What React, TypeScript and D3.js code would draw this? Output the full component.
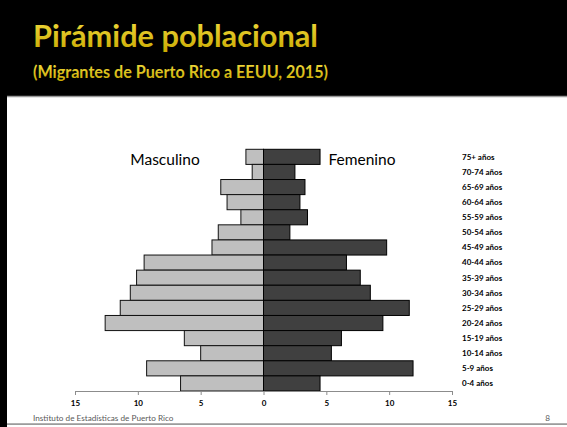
import { useEffect, useRef } from 'react'
import * as d3 from 'd3'

// age groups, top to bottom
const ageGroups = [
  '75+ años', '70-74 años', '65-69 años', '60-64 años', '55-59 años', '50-54 años',
  '45-49 años', '40-44 años', '35-39 años', '30-34 años', '25-29 años', '20-24 años',
  '15-19 años', '10-14 años', '5-9 años', '0-4 años',
]
const masculino = [1.4, 0.9, 3.4, 2.9, 1.8, 3.6, 4.1, 9.5, 10.1, 10.6, 11.4, 12.6, 6.3, 5.0, 9.3, 6.6]
const femenino = [4.5, 2.5, 3.3, 2.9, 3.5, 2.1, 9.8, 6.6, 7.7, 8.5, 11.6, 9.5, 6.2, 5.4, 11.9, 4.5]
const tickValues = [-15, -10, -5, 0, 5, 10, 15]

const W = 567
const H = 427

export default function App() {
  const ref = useRef<SVGSVGElement>(null)

  useEffect(() => {
    const svg = d3.select(ref.current)
    svg.selectAll('*').remove()

    // slide background
    svg.append('rect').attr('width', W).attr('height', H).attr('fill', '#000')
    svg.append('rect').attr('x', 7).attr('y', 96).attr('width', W - 7).attr('height', 328).attr('fill', '#fff')
    svg.append('line').attr('x1', 7).attr('x2', W).attr('y1', 96.5).attr('y2', 96.5).attr('stroke', '#999').attr('stroke-width', 1.5)
    svg.append('line').attr('x1', 7).attr('x2', W).attr('y1', 424).attr('y2', 424).attr('stroke', '#999').attr('stroke-width', 1.5)
    svg.append('rect').attr('x', 7).attr('y', 424.7).attr('width', W - 7).attr('height', 3).attr('fill', '#fff')

    const grad = svg.append('defs').append('linearGradient').attr('id', 'gold').attr('x1', 0).attr('x2', 0).attr('y1', 0).attr('y2', 1)
    grad.append('stop').attr('offset', '0%').attr('stop-color', '#f2dc40')
    grad.append('stop').attr('offset', '100%').attr('stop-color', '#c9a800')

    svg.append('text').attr('x', 33).attr('y', 47)
      .attr('font-family', 'Lato, sans-serif').attr('font-weight', 700).attr('font-size', 30)
      .attr('textLength', 285).attr('lengthAdjust', 'spacingAndGlyphs')
      .attr('fill', 'url(#gold)')
      .text('Pirámide poblacional')
    svg.append('text').attr('x', 33).attr('y', 78)
      .attr('font-family', 'Lato, sans-serif').attr('font-weight', 700).attr('font-size', 16.5)
      .attr('textLength', 295).attr('lengthAdjust', 'spacingAndGlyphs')
      .attr('fill', 'url(#gold)')
      .text('(Migrantes de Puerto Rico a EEUU, 2015)')

    const x = d3.scaleLinear().domain([-15, 15]).range([75, 452])
    const y = d3.scaleBand().domain(ageGroups).range([149.3, 391]).padding(0)

    const g = svg.append('g')

    g.selectAll('rect.m')
      .data(ageGroups)
      .enter()
      .append('rect')
      .attr('class', 'm')
      .attr('x', (d, i) => x(-masculino[i]))
      .attr('y', d => y(d)!)
      .attr('width', (d, i) => x(0) - x(-masculino[i]))
      .attr('height', y.bandwidth())
      .attr('fill', '#bfbfbf')
      .attr('stroke', '#111')
      .attr('stroke-width', 1)

    g.selectAll('rect.f')
      .data(ageGroups)
      .enter()
      .append('rect')
      .attr('class', 'f')
      .attr('x', x(0))
      .attr('y', d => y(d)!)
      .attr('width', (d, i) => x(femenino[i]) - x(0))
      .attr('height', y.bandwidth())
      .attr('fill', '#404040')
      .attr('stroke', '#000')
      .attr('stroke-width', 1)

    // axis
    const axis = d3.axisBottom(x)
      .tickValues(tickValues)
      .tickFormat(d => String(Math.abs(+d)))
      .tickSize(4)
    const ax = svg.append('g').attr('transform', 'translate(0,391)').call(axis)
    ax.select('.domain').attr('stroke', '#8c8c8c').attr('d', 'M75,0.5H452')
    ax.selectAll('.tick line').attr('stroke', '#8c8c8c')
    ax.selectAll('.tick text')
      .attr('font-family', 'Lato, sans-serif').attr('font-weight', 700).attr('font-size', 8)
      .attr('fill', '#000').attr('dy', '0.71em').attr('y', 9)

    // age labels
    svg.append('g').selectAll('text')
      .data(ageGroups)
      .enter()
      .append('text')
      .attr('x', 462)
      .attr('y', d => y(d)! + y.bandwidth() / 2)
      .attr('dy', '0.35em')
      .attr('font-family', 'Lato, sans-serif').attr('font-weight', 700).attr('font-size', 8)
      .attr('fill', '#000')
      .text(d => d)

    svg.append('text').attr('x', 165).attr('y', 165).attr('text-anchor', 'middle')
      .attr('font-family', 'Lato, sans-serif').attr('font-size', 15.5).attr('fill', '#000')
      .text('Masculino')
    svg.append('text').attr('x', 362).attr('y', 165).attr('text-anchor', 'middle')
      .attr('font-family', 'Lato, sans-serif').attr('font-size', 15.5).attr('fill', '#000')
      .text('Femenino')

    svg.append('text').attr('x', 33).attr('y', 421)
      .attr('font-family', 'Lato, sans-serif').attr('font-size', 8.2).attr('fill', '#595959')
      .text('Instituto de Estadísticas de Puerto Rico')
    svg.append('text').attr('x', 550).attr('y', 421).attr('text-anchor', 'end')
      .attr('font-family', 'Lato, sans-serif').attr('font-size', 8.2).attr('fill', '#595959')
      .text('8')
  })

  return (
    <svg width={W} height={H} ref={ref} style={{ position: 'absolute', left: 0, top: 0, display: 'block' }} />
  )
}
